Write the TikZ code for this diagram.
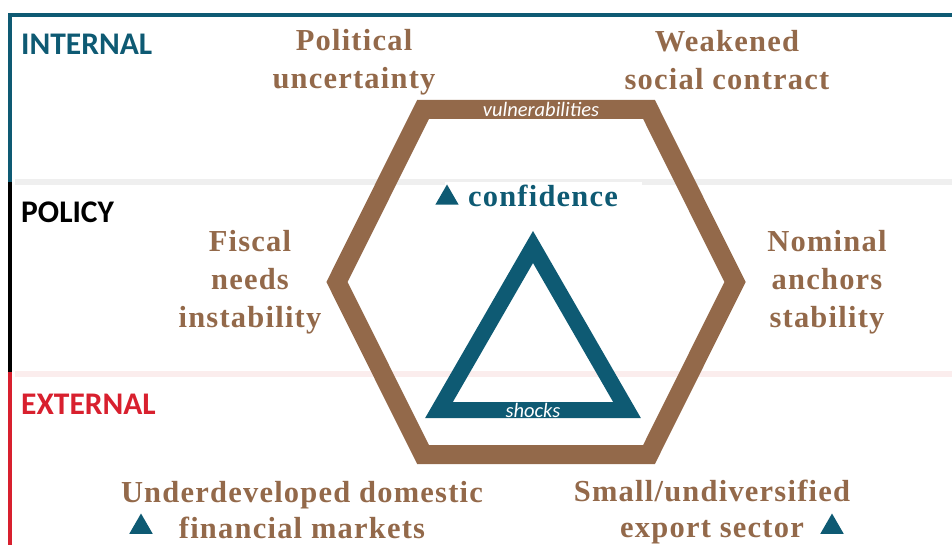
\documentclass[tikz,border=0pt]{standalone}
\usepackage{fontspec}
\setmainfont{Liberation Serif}
\newfontfamily\labfont[LetterSpace=4]{Liberation Serif}
\newfontfamily\sansfont{Carlito}
\usetikzlibrary{shapes.geometric}
\definecolor{teal}{HTML}{0E5A73}
\definecolor{brown}{HTML}{93694A}
\definecolor{redc}{HTML}{D8202E}
\definecolor{sepgray}{HTML}{EFEFEF}
\definecolor{seppink}{HTML}{FBEDED}
\tikzset{
  lab/.style={text=brown, align=center, font=\labfont\bfseries\fontsize{30.5}{38}\selectfont, inner sep=0pt},
  zone/.style={anchor=west, font=\sansfont\bfseries\fontsize{31.5}{34}\selectfont, inner sep=0pt},
  tag/.style={text=white, font=\sansfont\itshape\fontsize{20.5}{22}\selectfont, inner sep=0pt},
  marker/.style={regular polygon, regular polygon sides=3, fill=teal, minimum size=27pt, inner sep=0pt},
}
\begin{document}
\begin{tikzpicture}[x=1pt,y=-1pt]
\useasboundingbox (0,0) rectangle (952,545);
% separators
\draw[sepgray, line width=6pt] (15,182) -- (952,182);
\draw[seppink, line width=6pt] (15,374) -- (952,374);
% frame
\draw[teal, line width=4pt] (10,182) -- (10,15) -- (952,15);
\draw[black, line width=4pt] (10,182) -- (10,372);
\draw[redc, line width=4pt] (10,372) -- (10,545);
% zone labels
\node[zone, text=teal] (internal) at (21,44) {INTERNAL};
\node[zone, text=black] (policy) at (21,212) {POLICY};
\node[zone, text=redc] (external) at (21,404) {EXTERNAL};
% hexagon
\draw[brown, line width=19pt, line join=miter]
  (423,109.5) -- (649,109.5) -- (735,282) -- (649,454.5) -- (423,454.5) -- (337,282) -- cycle;
\node[tag] (vuln) at (541,109) {vulnerabilities};
% triangle
\draw[teal, line width=16pt, line join=miter]
  (533,247) -- (627,410) -- (439,410) -- cycle;
\node[tag] (shocks) at (533,410) {shocks};
% confidence
\node[fill=white, minimum width=197pt, minimum height=28pt, inner sep=0pt] (confbox) at (543.5,196) {};
\node[text=teal, font=\labfont\bfseries\fontsize{30.5}{38}\selectfont, inner sep=0pt] (conf) at (543,196) {confidence};
\node[marker] (mconf) at (447,198) {};
% labels
\node[lab] (political) at (354,62) {Political\\uncertainty};
\node[lab] (weakened) at (727,60) {Weakened\\social contract};
\node[lab] (fiscal) at (250,282) {Fiscal\\needs\\instability};
\node[lab] (nominal) at (827,282) {Nominal\\anchors\\stability};
\node[lab, font=\labfont\bfseries\fontsize{30.5}{36}\selectfont] (under) at (302,510) {Underdeveloped domestic\\financial markets};
\node[lab, font=\labfont\bfseries\fontsize{30.5}{36}\selectfont] (small) at (712,512) {Small/undiversified\\export sector};
\node[marker] (mleft) at (141,527) {};
\node[marker] (mright) at (832,527) {};
\end{tikzpicture}
\end{document}
